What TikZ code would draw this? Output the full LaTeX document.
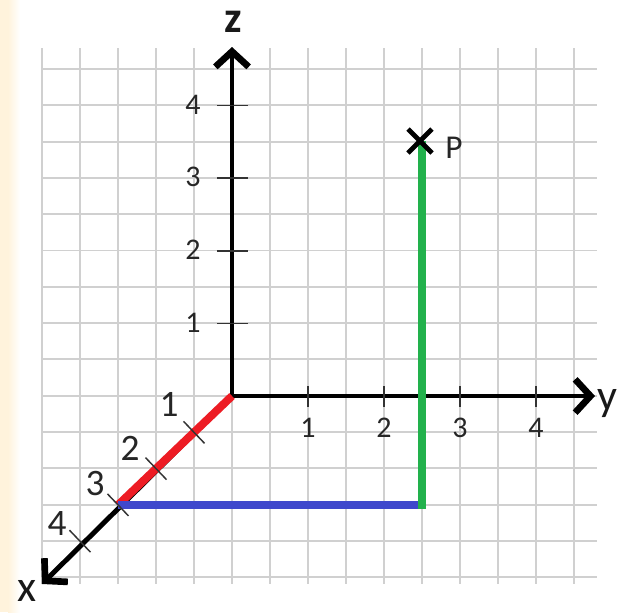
\documentclass[tikz,border=0pt]{standalone}
\usepackage{fontspec}
\setmainfont{Carlito}
\usetikzlibrary{arrows.meta}
\definecolor{pgreen}{HTML}{22B14C}
\definecolor{pred}{HTML}{ED1C24}
\definecolor{pblue}{HTML}{3F48CC}
\definecolor{gridc}{HTML}{D0D0D0}
\definecolor{cream}{HTML}{FFF3DC}
\begin{document}
\begin{tikzpicture}[x=0.75pt,y=-0.75pt,
  gridline/.style={draw=gridc,line width=1.4pt},
  barb/.tip={Straight Barb[length=11.5pt,width=25pt,line width=5pt]},
  axisline/.style={line width=3.7pt,black},
  tickm/.style={line width=1.1pt,draw=black!80},
  colline/.style={line width=6pt},
  smalllab/.style={anchor=base,inner sep=0pt,font=\fontsize{22.5}{26}\selectfont,text=black!85},
  xlab/.style={anchor=base,inner sep=0pt,font=\fontsize{28}{32}\selectfont,text=black!85},
  axlab/.style={anchor=base,inner sep=0pt,font=\fontsize{33}{38}\selectfont,text=black!90}]
\useasboundingbox (0,0) rectangle (618,612);
\fill[white] (0,0) rectangle (618,612);
\fill[cream] (0,0) rectangle (8,612);
\shade[left color=cream,right color=white] (8,0) rectangle (20,612);
% grid
\foreach \k in {0,...,14} \draw[gridline] ({42+38*\k},48) -- ({42+38*\k},584);
\foreach \k in {0,...,14} \draw[gridline] (42,{69+36.3*\k}) -- (597,{69+36.3*\k});
% key points
\coordinate (O) at (232,396);
\coordinate (ZT) at (232,47);
\coordinate (YT) at (595,396);
\coordinate (XT) at (42,584);
\coordinate (A) at (118,505);
\coordinate (B) at (422,505);
\coordinate (P) at (422,141);
% axes
\draw[axisline,barb-barb] (ZT) -- (O) -- (YT);
\draw[axisline,-barb] (O) -- (XT);
% coloured path
\draw[colline,pred] (O) -- (A);
\draw[colline,pblue] (A) -- (B);
\draw[colline,pgreen] ([yshift=-3]B) -- (P);
% point P
\draw[line width=3.6pt] (408,129) -- (432,153) (408,153) -- (432,129);
\node[anchor=base,inner sep=0pt,font=\fontsize{25}{30}\selectfont,text=black!85] (Plab) at (454,158) {P};
% ticks on z
\foreach \z in {105.6,178.2,250.8,323.4} \draw[tickm] (217,\z) -- (248,\z);
% ticks on y
\foreach \y in {308,384,460,536} \draw[tickm] (\y,386) -- (\y,407);
% ticks on x
\draw[tickm] (183.5,421.3) -- (204.5,443.3);
\draw[tickm] (145.5,457.6) -- (166.5,479.6);
\draw[tickm] (107.5,493.9) -- (128.5,515.9);
\draw[tickm] (69.5,530.2) -- (90.5,552.2);
% labels z
\node[smalllab] (z4) at (193,114) {4};
\node[smalllab] (z3) at (193,186.7) {3};
\node[smalllab] (z2) at (193,259.3) {2};
\node[smalllab] (z1) at (193,332) {1};
% labels y
\node[smalllab] (y1) at (308,437) {1};
\node[smalllab] (y2) at (384,437) {2};
\node[smalllab] (y3) at (460,437) {3};
\node[smalllab] (y4) at (536,437) {4};
% labels x
\node[xlab] (x1) at (169,416) {1};
\node[xlab] (x2) at (130,460) {2};
\node[xlab] (x3) at (95,495) {3};
\node[xlab] (x4) at (57,535) {4};
% axis names
\node[axlab,font=\fontsize{33}{38}\selectfont\bfseries] (zname) at (233,32) {z};
\node[axlab] (yname) at (607,410) {y};
\node[axlab] (xname) at (27,601) {x};
\end{tikzpicture}
\end{document}
